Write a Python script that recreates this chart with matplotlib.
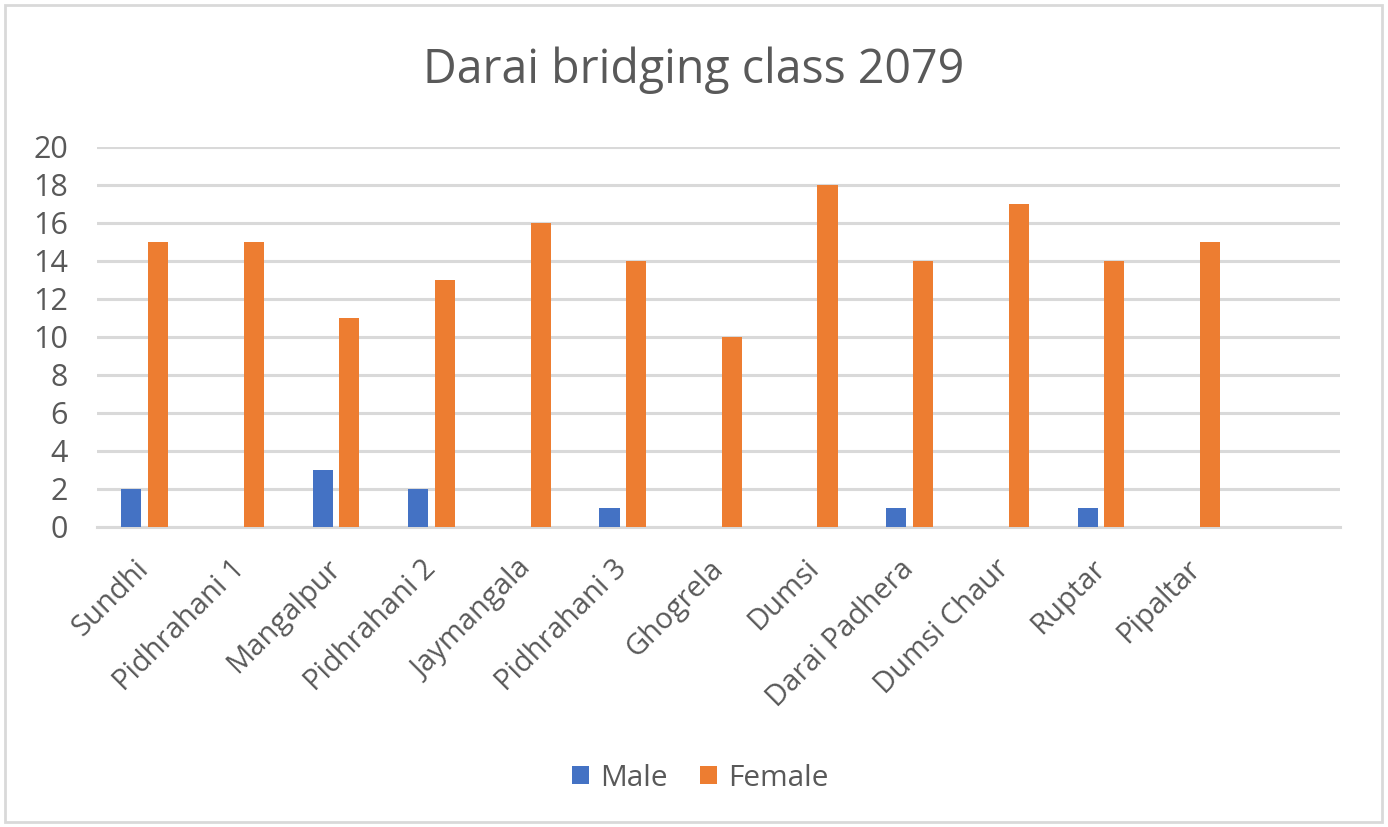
import matplotlib
matplotlib.use("Agg")
import matplotlib.pyplot as plt
import numpy as np
from matplotlib.patches import Rectangle

categories = ["Sundhi", "Pidhrahani 1", "Mangalpur", "Pidhrahani 2", "Jaymangala",
              "Pidhrahani 3", "Ghogrela", "Dumsi", "Darai Padhera", "Dumsi Chaur",
              "Ruptar", "Pipaltar", ""]
male = [2, 0, 3, 2, 0, 1, 0, 0, 1, 0, 1, 0, 0]
female = [15, 15, 11, 13, 16, 14, 10, 18, 14, 17, 14, 15, 0]
yticks = [0, 2, 4, 6, 8, 10, 12, 14, 16, 18, 20]

plt.rcParams['font.family'] = ['Open Sans', 'DejaVu Sans']
TXT = '#595959'
GRID = '#D9D9D9'

fig = plt.figure(figsize=(13.88, 8.27), dpi=100)
ax = fig.add_axes([97/1388, 1-527/827, (1340-97)/1388, (527-147)/827])

x = np.arange(len(categories))
w = 0.21
off = 0.14
ax.bar(x - off, male, w, color='#4472C4', label='Male', zorder=3)
ax.bar(x + off, female, w, color='#ED7D31', label='Female', zorder=3)

ax.set_xlim(-0.5, len(categories) - 0.5)
ax.set_ylim(0, 20)
ax.set_yticks(yticks)
ax.set_yticklabels([str(v) for v in yticks], fontsize=22, color=TXT)
ax.yaxis.grid(True, color=GRID, linewidth=2.2, zorder=0)
ax.set_axisbelow(True)
ax.tick_params(axis='y', length=0, pad=21)
ax.tick_params(axis='x', length=0, pad=27)
ax.set_xticks(x)
ax.set_xticklabels(categories, rotation=45, ha='right', va='center',
                   rotation_mode='anchor', fontsize=21, color=TXT)
for s in ['top', 'right', 'left']:
    ax.spines[s].set_visible(False)
ax.spines['bottom'].set_color(GRID)
ax.spines['bottom'].set_linewidth(2.2)

fig.text(0.5, 1-70/827, 'Darai bridging class 2079', ha='center', va='center',
         fontsize=33.5, color=TXT)

handles, labels = ax.get_legend_handles_labels()
fig.legend(handles, labels, loc='center', bbox_to_anchor=(0.5045, 1-778/827),
           ncol=2, frameon=False, fontsize=21.5, labelcolor=TXT,
           handlelength=0.55, handleheight=0.55, handletextpad=0.37, columnspacing=1.1)

fig.patches.append(Rectangle((5/1388, 5/827), (1382-5)/1388, (822-5)/827,
                             transform=fig.transFigure, fill=False,
                             edgecolor=GRID, linewidth=2))

fig.savefig('out.png', dpi=100, facecolor='white')
